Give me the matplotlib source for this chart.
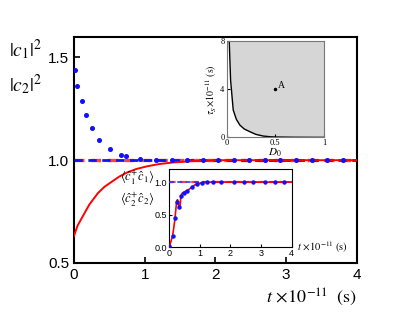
import matplotlib
matplotlib.use("Agg")
import matplotlib.pyplot as plt
import numpy as np

plt.rcParams["font.family"] = ["Liberation Sans", "DejaVu Sans"]
plt.rcParams["mathtext.fontset"] = "stix"

# main panel: populations vs time (units of 1e-11 s)
t_red = [0, 0.05, 0.13, 0.22, 0.34, 0.43, 0.53, 0.64, 0.75, 0.88, 1.03, 1.2, 1.4, 1.7, 2.0, 4.0]
c1_red = [0.63, 0.68, 0.73, 0.785, 0.84, 0.87, 0.894, 0.92, 0.94, 0.957, 0.97, 0.981, 0.989, 0.996, 1.0, 1.0]
t_const = [0, 4]
c_const = [1.0, 1.0]
t_dot = [0.01, 0.05, 0.11, 0.175, 0.25, 0.36, 0.51, 0.66, 0.73, 0.93, 1.16, 1.38, 1.6, 1.82,
         2.04, 2.26, 2.48, 2.7, 2.92, 3.14, 3.36, 3.58, 3.8]
c2_dot = [1.44, 1.36, 1.29, 1.22, 1.156, 1.10, 1.054, 1.026, 1.02, 1.006, 1.0, 1.0, 1.0, 1.0,
          1.0, 1.0, 1.0, 1.0, 1.0, 1.0, 1.0, 1.0, 1.0]

# inset 1: tau_S vs D0 boundary
d0_curve = [0.027, 0.041, 0.068, 0.1, 0.136, 0.18, 0.239, 0.3, 0.375, 0.45, 0.51, 0.7, 1.0]
tau_curve = [8.0, 4.76, 2.27, 1.5, 1.02, 0.7, 0.47, 0.25, 0.11, 0.05, 0.03, 0.01, 0.0]
point_A = (0.5, 4.0)

# inset 2: expectation values vs time
t_in = [0, 0.03, 0.12, 0.185, 0.22, 0.25, 0.28, 0.325, 0.36, 0.39, 0.43, 0.52, 0.63, 0.74,
        0.85, 1.0, 1.23, 1.5, 4.0]
n_in = [0.0, 0.03, 0.17, 0.39, 0.55, 0.70, 0.73, 0.62, 0.61, 0.78, 0.83, 0.855, 0.88, 0.92,
        0.96, 0.985, 1.0, 1.0, 1.0]
t_in_dot = [0.0, 0.12, 0.2, 0.25, 0.33, 0.4, 0.48, 0.6, 0.75, 0.9, 1.07, 1.24, 1.45, 1.69,
            2.12, 2.45, 2.73, 3.12, 3.45, 3.74]
n_in_dot = [0.02, 0.17, 0.45, 0.70, 0.62, 0.79, 0.84, 0.87, 0.92, 0.965, 0.99, 1.0, 1.0, 1.0,
            1.0, 1.0, 1.0, 1.0, 1.0, 1.0]

fig = plt.figure(figsize=(4.15, 3.18), dpi=100)

ax = fig.add_axes([0.178, 0.173, 0.682, 0.711])
ax.plot(t_const, c_const, color="#ff4040", linestyle=(0, (3, 2)), linewidth=2.4, zorder=2)
ax.plot(t_const, c_const, color="#1010ff", linestyle=(0, (3, 2)), linewidth=2.0, zorder=3)
ax.plot(t_red, c1_red, color="#ff0000", linewidth=1.4, zorder=4)
ax.plot(t_dot, c2_dot, color="#1010ff", linestyle="", marker="o", markersize=2.6, zorder=5)
ax.set_xlim(0, 4)
ax.set_ylim(0.5, 1.6)
ax.set_xticks([0, 1, 2, 3, 4])
ax.set_yticks([0.5, 1.0, 1.5])
ax.set_yticklabels(["0.5", "1.0", "1.5"])
ax.tick_params(direction="in", labelsize=11, width=1.2, length=4)
for s in ax.spines.values():
    s.set_linewidth(1.5)

fig.text(0.022, 0.843, r"$|c_1|^2$", fontsize=14, ha="left", va="center")
fig.text(0.022, 0.733, r"$|c_2|^2$", fontsize=14, ha="left", va="center")
fig.text(0.86, 0.065, r"$t\,\times\!10^{-11}\ \ (\mathrm{s})$", fontsize=13, ha="right", va="center")

# inset 1
ax1 = fig.add_axes([0.546, 0.568, 0.235, 0.303])
ax1.fill_between(d0_curve, tau_curve, 8, color="#d6d6d6", linewidth=0)
ax1.fill_between([d0_curve[-1], 1.0], [0, 0], 8, color="#d6d6d6", linewidth=0)
ax1.plot(d0_curve, tau_curve, color="black", linewidth=1.0)
ax1.plot(*point_A, marker="o", color="black", markersize=1.5)
ax1.text(point_A[0] + 0.03, point_A[1] + 0.1, "A", fontsize=7, family="Liberation Serif")
ax1.set_xlim(0, 1)
ax1.set_ylim(0, 8)
ax1.set_xticks([0, 0.5, 1])
ax1.set_xticklabels(["0", "0.5", "1"])
ax1.set_yticks([0, 4, 8])
ax1.tick_params(direction="in", labelsize=6, length=2, pad=1.5)
for lab in ax1.get_xticklabels() + ax1.get_yticklabels():
    lab.set_family("Liberation Serif")
for s in ax1.spines.values():
    s.set_color("#777777")
ax1.set_xlabel(r"$D_0$", fontsize=8, labelpad=-1)
ax1.set_ylabel(r"$\tau_S\!\times\!10^{-11}\ (\mathrm{s})$", fontsize=7, labelpad=1)

# inset 2
ax2 = fig.add_axes([0.407, 0.223, 0.296, 0.245])
ax2.plot(t_const, c_const, color="#ff4040", linestyle=(0, (3, 2)), linewidth=1.6, zorder=2)
ax2.plot(t_const, c_const, color="#3030ff", linestyle=(0, (3, 2)), linewidth=1.2, zorder=3)
ax2.plot(t_in, n_in, color="#ff0000", linewidth=1.2, zorder=4)
ax2.plot(t_in_dot, n_in_dot, color="#1010ff", linestyle="", marker="o", markersize=2.2, zorder=5)
ax2.set_xlim(0, 4)
ax2.set_ylim(0, 1.2)
ax2.set_xticks([0, 1, 2, 3, 4])
ax2.set_yticks([0, 0.5, 1.0])
ax2.set_yticklabels(["0.0", "0.5", "1.0"])
ax2.tick_params(direction="in", labelsize=6.5, length=2, pad=1.5)
ax2.text(1.04, 0.0, r"$t\,\times\!10^{-11}\ (\mathrm{s})$", fontsize=7.5,
         transform=ax2.transAxes, ha="left", va="center")

fig.text(0.29, 0.44, r"$\left\langle\hat{c}_1^{+}\hat{c}_1\right\rangle$", fontsize=9, ha="left", va="center")
fig.text(0.29, 0.37, r"$\left\langle\hat{c}_2^{+}\hat{c}_2\right\rangle$", fontsize=9, ha="left", va="center")

fig.savefig("out.png", dpi=100)
